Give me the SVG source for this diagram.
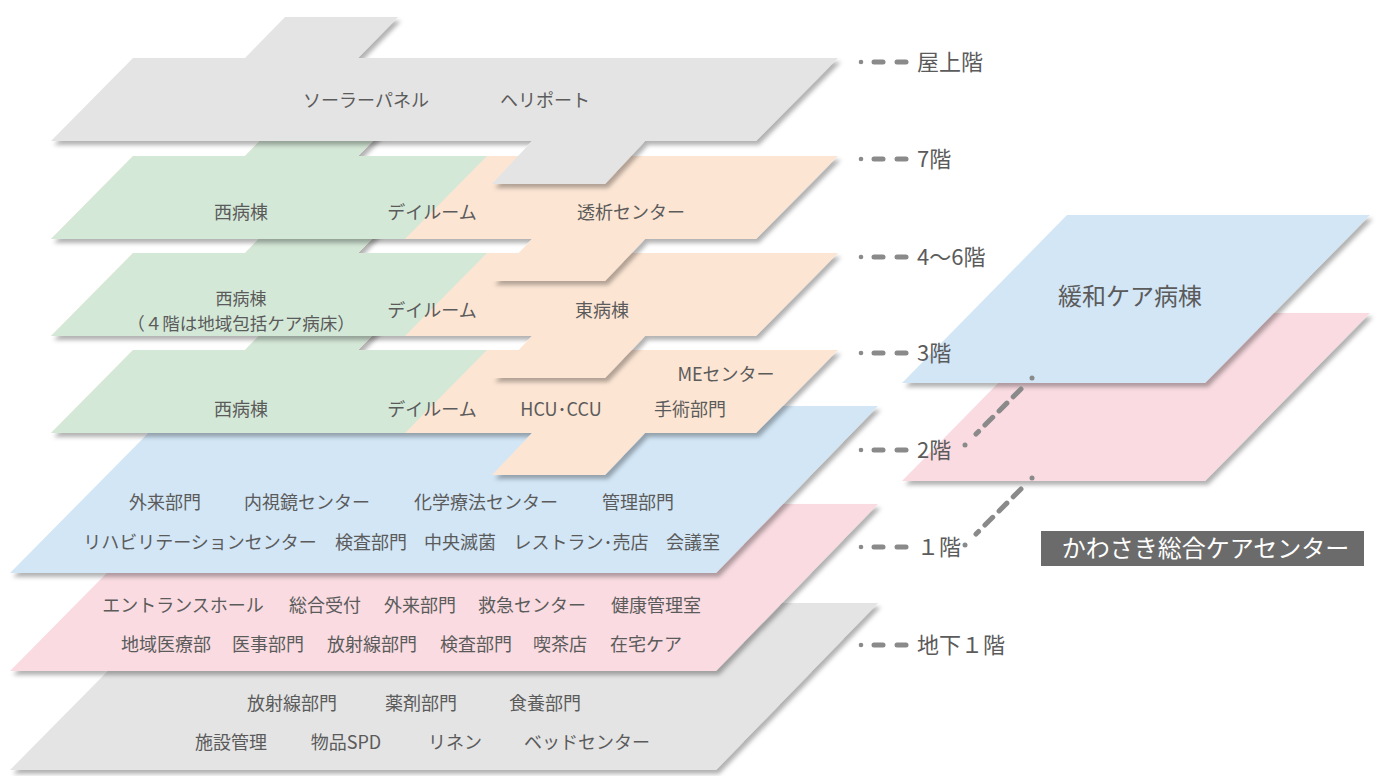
<svg xmlns="http://www.w3.org/2000/svg" width="1383" height="776" viewBox="0 0 1383 776">
<defs>
<filter id="sh" x="-5%" y="-10%" width="115%" height="130%">
<feDropShadow dx="3" dy="4" stdDeviation="2.2" flood-color="#000" flood-opacity="0.3"/>
</filter>
<style>
.t{font-family:"Noto Sans CJK JP","Noto Sans",sans-serif;font-size:18px;fill:#5b5b5b;text-anchor:middle}
.fl{font-family:"Noto Sans CJK JP","Noto Sans",sans-serif;font-size:22px;fill:#5b5b5b}
.gray{fill:#e4e4e4}.green{fill:#d4e8d7}.orange{fill:#fce5d3}.blue{fill:#d2e6f6}.pink{fill:#f9dbe1}
.dash{stroke:#8a8a8a;stroke-width:5;stroke-linecap:round;fill:none}
.dot{fill:#8a8a8a}
</style>
</defs>
<rect width="1383" height="776" fill="#fff"/>

<g id="floor-b1">
<polygon class="gray" filter="url(#sh)" points="175,603 878,603 716,770 10,770"/>
<text class="t" x="292" y="709.5">放射線部門</text>
<text class="t" x="421" y="709.5">薬剤部門</text>
<text class="t" x="545" y="709.5">食養部門</text>
<text class="t" x="231" y="748.5">施設管理</text>
<text class="t" x="346" y="748.5">物品SPD</text>
<text class="t" x="455" y="748.5">リネン</text>
<text class="t" x="587" y="748.5">ベッドセンター</text>
</g>

<g id="floor-1">
<polygon class="pink" filter="url(#sh)" points="175,504 878,504 716,671 10,671"/>
<text class="t" x="183" y="611.5">エントランスホール</text>
<text class="t" x="325" y="611.5">総合受付</text>
<text class="t" x="420" y="611.5">外来部門</text>
<text class="t" x="532" y="611.5">救急センター</text>
<text class="t" x="656" y="611.5">健康管理室</text>
<text class="t" x="166" y="650.5">地域医療部</text>
<text class="t" x="268" y="650.5">医事部門</text>
<text class="t" x="372" y="650.5">放射線部門</text>
<text class="t" x="476" y="650.5">検査部門</text>
<text class="t" x="560" y="650.5">喫茶店</text>
<text class="t" x="646" y="650.5">在宅ケア</text>
</g>

<g id="floor-2">
<polygon class="blue" filter="url(#sh)" points="175,406 878,406 716,573 10,573"/>
<text class="t" x="165" y="508.5">外来部門</text>
<text class="t" x="307" y="508.5">内視鏡センター</text>
<text class="t" x="486" y="508.5">化学療法センター</text>
<text class="t" x="638" y="508.5">管理部門</text>
<text class="t" x="200" y="548.5">リハビリテーションセンター</text>
<text class="t" x="371" y="548.5">検査部門</text>
<text class="t" x="460" y="548.5">中央滅菌</text>
<text class="t" x="581" y="548.5">レストラン･売店</text>
<text class="t" x="693" y="548.5">会議室</text>
</g>

<g id="floor-3">
<g filter="url(#sh)">
<polygon class="orange" points="133,350 245,350 285,309 398,309 358,350 838,350 756,433 645,433 605,475 492,475 532,433 51,433"/>
<polygon class="green" points="133,350 245,350 285,309 398,309 358,350 487,350 405,433 51,433"/>
</g>
<text class="t" x="726" y="380.5">MEセンター</text>
<text class="t" x="241" y="415.5">西病棟</text>
<text class="t" x="432" y="415.5">デイルーム</text>
<text class="t" x="561" y="415.5">HCU･CCU</text>
<text class="t" x="690" y="415.5">手術部門</text>
</g>

<g id="floor-4-6">
<g filter="url(#sh)">
<polygon class="orange" points="133,253 245,253 285,212 398,212 358,253 838,253 756,336 645,336 605,378 492,378 532,336 51,336"/>
<polygon class="green" points="133,253 245,253 285,212 398,212 358,253 487,253 405,336 51,336"/>
</g>
<text class="t" x="241" y="305" style="font-size:17px">西病棟</text>
<text class="t" x="241" y="329.5" style="font-size:17.5px">（４階は地域包括ケア病床）</text>
<text class="t" x="432" y="316.5">デイルーム</text>
<text class="t" x="602" y="316.5">東病棟</text>
</g>

<g id="floor-7">
<g filter="url(#sh)">
<polygon class="orange" points="133,156 245,156 285,115 398,115 358,156 838,156 756,239 645,239 605,281 492,281 532,239 51,239"/>
<polygon class="green" points="133,156 245,156 285,115 398,115 358,156 487,156 405,239 51,239"/>
</g>
<text class="t" x="241" y="218.5">西病棟</text>
<text class="t" x="432" y="218.5">デイルーム</text>
<text class="t" x="631" y="218.5">透析センター</text>
</g>

<g id="floor-roof">
<polygon class="gray" filter="url(#sh)" points="133,58 245,58 285,17 398,17 358,58 838,58 756,141 645,141 605,184 492,184 532,141 51,141"/>
<text class="t" x="366" y="106.5">ソーラーパネル</text>
<text class="t" x="545" y="106.5">ヘリポート</text>
</g>

<g id="care-2">
<polygon class="pink" filter="url(#sh)" points="1067,313 1370,313 1205,481 902,481"/>
</g>
<g id="care-3">
<polygon class="blue" filter="url(#sh)" points="1067,215 1370,215 1205,383 902,383"/>
<text class="t" x="1130" y="305" style="font-size:24px">緩和ケア病棟</text>
</g>

<g id="care-title">
<rect x="1041" y="531" width="323" height="35" fill="#6b6b6b"/>
<text x="1205.5" y="556.5" style="font-family:'Noto Sans CJK JP','Noto Sans',sans-serif;font-size:24px;fill:#fff;text-anchor:middle">かわさき総合ケアセンター</text>
</g>

<g id="floor-labels">
<g id="lbl-roof"><circle class="dot" cx="861" cy="62" r="2.3"/><line class="dash" x1="874" y1="62" x2="883" y2="62"/><line class="dash" x1="897" y1="62" x2="906" y2="62"/><text class="fl" x="917" y="70">屋上階</text></g>
<g id="lbl-7"><circle class="dot" cx="861" cy="159" r="2.3"/><line class="dash" x1="874" y1="159" x2="883" y2="159"/><line class="dash" x1="897" y1="159" x2="906" y2="159"/><text class="fl" x="917" y="167">7階</text></g>
<g id="lbl-4-6"><circle class="dot" cx="861" cy="257" r="2.3"/><line class="dash" x1="874" y1="257" x2="883" y2="257"/><line class="dash" x1="897" y1="257" x2="906" y2="257"/><text class="fl" x="917" y="265">4〜6階</text></g>
<g id="lbl-3"><circle class="dot" cx="861" cy="353" r="2.3"/><line class="dash" x1="874" y1="353" x2="883" y2="353"/><line class="dash" x1="897" y1="353" x2="906" y2="353"/><text class="fl" x="917" y="361">3階</text></g>
<g id="lbl-2"><circle class="dot" cx="861" cy="450" r="2.3"/><line class="dash" x1="874" y1="450" x2="883" y2="450"/><line class="dash" x1="897" y1="450" x2="906" y2="450"/><text class="fl" x="917" y="458">2階</text></g>
<g id="lbl-1"><circle class="dot" cx="861" cy="547" r="2.3"/><line class="dash" x1="874" y1="547" x2="883" y2="547"/><line class="dash" x1="897" y1="547" x2="906" y2="547"/><text class="fl" x="917" y="555">１階</text></g>
<g id="lbl-b1"><circle class="dot" cx="861" cy="645" r="2.3"/><line class="dash" x1="874" y1="645" x2="883" y2="645"/><line class="dash" x1="897" y1="645" x2="906" y2="645"/><text class="fl" x="917" y="653">地下１階</text></g>
</g>

<g id="connectors">
<circle class="dot" cx="1032" cy="378" r="2.5"/>
<line class="dash" x1="1021" y1="389" x2="976" y2="434" stroke-dasharray="11 9"/>
<circle class="dot" cx="965" cy="445" r="2.5"/>
<circle class="dot" cx="1032" cy="478" r="2.5"/>
<line class="dash" x1="1021" y1="489" x2="976" y2="534" stroke-dasharray="11 9"/>
<circle class="dot" cx="965" cy="545" r="2.5"/>
</g>
</svg>
